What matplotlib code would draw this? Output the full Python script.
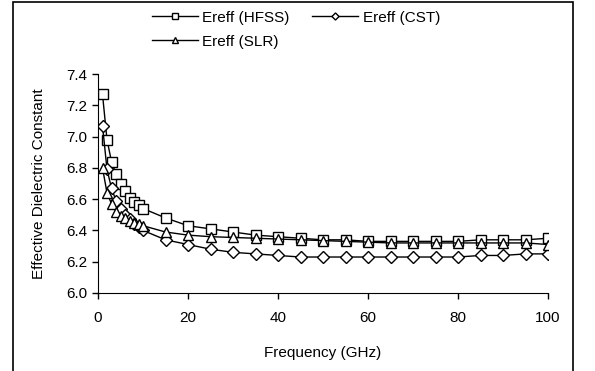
import numpy as np
import matplotlib
matplotlib.use("Agg")
from matplotlib import pyplot as plt
from matplotlib.patches import Rectangle

plt.rcParams["font.family"] = ["Liberation Sans", "DejaVu Sans"]

freq = [1, 2, 3, 4, 5, 6, 7, 8, 9, 10, 15, 20, 25, 30, 35, 40, 45, 50,
        55, 60, 65, 70, 75, 80, 85, 90, 95, 100]

ereff_hfss = [7.27, 6.98, 6.84, 6.76, 6.70, 6.65, 6.61, 6.58, 6.56, 6.54,
              6.48, 6.43, 6.41, 6.39, 6.37, 6.36, 6.35, 6.34, 6.34, 6.33,
              6.33, 6.33, 6.33, 6.33, 6.34, 6.34, 6.34, 6.35]
ereff_cst = [7.07, 6.79, 6.67, 6.59, 6.54, 6.50, 6.47, 6.44, 6.42, 6.40,
             6.34, 6.31, 6.28, 6.26, 6.25, 6.24, 6.23, 6.23, 6.23, 6.23,
             6.23, 6.23, 6.23, 6.23, 6.24, 6.24, 6.25, 6.25]
ereff_slr = [6.80, 6.64, 6.57, 6.52, 6.49, 6.48, 6.46, 6.45, 6.44, 6.43,
             6.39, 6.37, 6.36, 6.355, 6.35, 6.345, 6.34, 6.335, 6.33, 6.325,
             6.32, 6.32, 6.32, 6.32, 6.32, 6.32, 6.32, 6.31]

yticks = [6.0, 6.2, 6.4, 6.6, 6.8, 7.0, 7.2, 7.4]
xticks = [0, 20, 40, 60, 80, 100]

W, H = 595, 371
fig = plt.figure(figsize=(W / 100, H / 100), dpi=100)
ax = fig.add_axes([98 / W, 78 / H, 450 / W, 219 / H])

stil = dict(color="black", linewidth=1, markerfacecolor="white",
            markeredgecolor="black", markeredgewidth=1)
l1, = ax.plot(freq, ereff_hfss, marker="s", markersize=6.5, label="Ereff (HFSS)", **stil)
l2, = ax.plot(freq, ereff_cst, marker="D", markersize=6, label="Ereff (CST)", **stil)
l3, = ax.plot(freq, ereff_slr, marker="^", markersize=7, label="Ereff (SLR)", **stil)

ax.set_xlim(0, 100)
ax.set_ylim(6.0, 7.4)
ax.set_xticks(xticks)
ax.set_yticks(yticks)
ax.set_yticklabels([f"{v:.1f}" for v in yticks])
ax.spines["top"].set_visible(False)
ax.spines["right"].set_visible(False)
ax.tick_params(direction="out", length=4, width=1, labelsize=11, color="black")
ax.tick_params(axis="x", pad=9)
ax.set_xlabel("Frequency (GHz)", fontsize=11, labelpad=15)
ax.set_ylabel("Effective Dielectric Constant", fontsize=11, labelpad=15)

# kolonnevis fylling: HFSS og CST paa forste rad, SLR under
fig.legend([l1, l3, l2], ["Ereff (HFSS)", "Ereff (SLR)", "Ereff (CST)"],
           loc="upper left", bbox_to_anchor=(138 / W, 1 + 3 / H), ncol=2,
           frameon=False, fontsize=11, handlelength=3.0, markerscale=0.6,
           columnspacing=1.5, handletextpad=0.3, labelspacing=0.65)

# ramme rundt hele diagrammet
fig.patches.append(Rectangle((13 / W, -0.05), 560 / W, 1.05 - 1.5 / H,
                             transform=fig.transFigure, fill=False,
                             edgecolor="black", linewidth=1.2))

plt.savefig("out.png", dpi=100)
